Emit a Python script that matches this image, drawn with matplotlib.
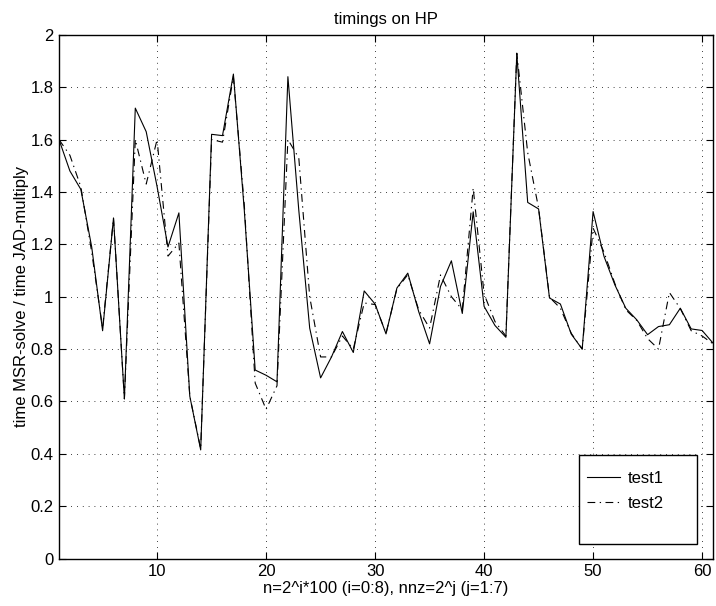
import matplotlib
matplotlib.use("Agg")
import matplotlib.pyplot as plt
from matplotlib.patches import Rectangle

plt.rcParams['font.family'] = ['Liberation Sans', 'DejaVu Sans']

# problem index (n=2^i*100, nnz=2^j)
case_index = list(range(1, 62))

# ratio time MSR-solve / time JAD-multiply, run 1
test1 = [1.60, 1.48, 1.41, 1.19, 0.87, 1.30, 0.61, 1.72, 1.63, 1.42,
         1.19, 1.32, 0.62, 0.415, 1.62, 1.615, 1.85, 1.33, 0.72, 0.70,
         0.675, 1.84, 1.33, 0.88, 0.69, 0.77, 0.867, 0.787, 1.022, 0.972,
         0.858, 1.033, 1.09, 0.943, 0.82, 1.039, 1.137, 0.936, 1.324, 0.963,
         0.89, 0.845, 1.927, 1.36, 1.335, 0.995, 0.972, 0.857, 0.80, 1.325,
         1.154, 1.045, 0.956, 0.912, 0.855, 0.886, 0.893, 0.956, 0.877, 0.871,
         0.823]

# ratio time MSR-solve / time JAD-multiply, run 2
test2 = [1.60, 1.54, 1.42, 1.17, 0.88, 1.30, 0.61, 1.60, 1.43, 1.60,
         1.155, 1.205, 0.62, 0.42, 1.60, 1.59, 1.84, 1.35, 0.67, 0.57,
         0.66, 1.60, 1.53, 1.00, 0.77, 0.77, 0.85, 0.80, 0.976, 0.97,
         0.86, 1.03, 1.084, 0.95, 0.88, 1.083, 1.00, 0.95, 1.415, 1.01,
         0.905, 0.85, 1.93, 1.55, 1.338, 0.998, 0.956, 0.86, 0.80, 1.262,
         1.17, 1.05, 0.95, 0.91, 0.84, 0.80, 1.016, 0.955, 0.87, 0.85,
         0.82]

xticks = [10, 20, 30, 40, 50, 60]
yticks = [0, 0.2, 0.4, 0.6, 0.8, 1, 1.2, 1.4, 1.6, 1.8, 2]
ytick_labels = ['0', '0.2', '0.4', '0.6', '0.8', '1', '1.2', '1.4', '1.6', '1.8', '2']

FS = 12

fig = plt.figure(figsize=(7.16, 6.06), dpi=100)
ax = fig.add_axes([0.0824, 0.0782, 0.9134, 0.8644])

ax.plot(case_index, test1, color='black', linewidth=0.8, linestyle='-', label='test1')
ax.plot(case_index, test2, color='black', linewidth=0.8,
        linestyle=(0, (7, 4, 1.2, 4)), label='test2')

ax.set_xlim(1, 61)
ax.set_ylim(0, 2)
ax.set_xticks(xticks)
ax.set_xticklabels([str(t) for t in xticks])
ax.set_yticks(yticks)
ax.set_yticklabels(ytick_labels)

ax.grid(True, color='black', linestyle=(0, (1, 6)), linewidth=0.6)
ax.tick_params(direction='in', length=5, width=0.8, top=True, right=True,
               labelsize=FS, colors='black', pad=4)
for s in ax.spines.values():
    s.set_linewidth(1.0)
    s.set_color('black')

ax.set_title('timings on HP', fontsize=FS, pad=8)
ax.set_xlabel('n=2^i*100 (i=0:8), nnz=2^j (j=1:7)', fontsize=FS, labelpad=1)
ax.set_ylabel('time MSR-solve / time JAD-multiply', fontsize=FS, labelpad=1)

# legend box: white panel with black border, entries drawn on top
ax.add_patch(Rectangle((0.795, 0.028), 0.180, 0.170, transform=ax.transAxes,
                       facecolor='white', edgecolor='black', linewidth=1.0,
                       zorder=4.9))
leg = ax.legend(loc='upper left', bbox_to_anchor=(0.807, 0.168), fontsize=FS,
                frameon=False, handlelength=2.0, borderpad=0, labelspacing=0.6,
                handletextpad=0.45, borderaxespad=0)
leg.set_zorder(5)

fig.savefig('out.png', dpi=100)
